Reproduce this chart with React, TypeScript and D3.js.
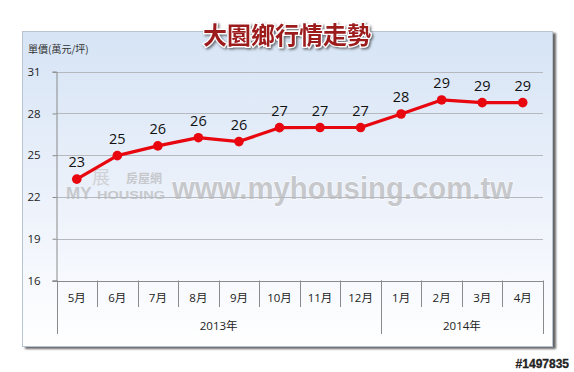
import { useEffect, useRef } from "react";
import * as d3 from "d3";

// monthly unit price (萬元/坪), 2013-05 .. 2014-04
const MONTHS = ["5月", "6月", "7月", "8月", "9月", "10月", "11月", "12月", "1月", "2月", "3月", "4月"];
const PRICES = [23.28, 24.97, 25.67, 26.26, 25.98, 26.98, 26.99, 26.99, 27.96, 28.97, 28.78, 28.78];
const YEAR_LABELS = ["2013年", "2014年"];
const YEAR_SPANS = [8, 4];
const Y_TICKS = [16, 19, 22, 25, 28, 31];

const W = 574;
const H = 372;
const FONT = "'Open Sans', 'Noto Sans CJK TC', sans-serif";
const CJK = "'Noto Sans CJK TC', 'Open Sans', sans-serif";
const WM = "'Liberation Sans', Arial, sans-serif";

export default function App() {
  const svgRef = useRef<SVGSVGElement>(null);

  useEffect(() => {
    const svg = d3.select(svgRef.current);
    svg.selectAll("*").remove();

    const plot = { left: 56.5, right: 543, top: 71.7, bottom: 280.5 };

    const defs = svg.append("defs");
    const grad = defs
      .append("linearGradient")
      .attr("id", "bg")
      .attr("x1", 0)
      .attr("y1", 0)
      .attr("x2", 0)
      .attr("y2", 1);
    grad.append("stop").attr("offset", "0%").attr("stop-color", "#d6e4f5");
    grad.append("stop").attr("offset", "55%").attr("stop-color", "#edf2fb");
    grad.append("stop").attr("offset", "100%").attr("stop-color", "#ffffff");

    const shadow = defs.append("filter").attr("id", "shadow").attr("x", "-5%").attr("y", "-5%").attr("width", "115%").attr("height", "115%");
    shadow
      .append("feDropShadow")
      .attr("dx", 3)
      .attr("dy", 2)
      .attr("stdDeviation", 1)
      .attr("flood-color", "#555")
      .attr("flood-opacity", 0.9);

    const tshadow = defs.append("filter").attr("id", "tshadow").attr("x", "-10%").attr("y", "-30%").attr("width", "120%").attr("height", "160%");
    tshadow
      .append("feDropShadow")
      .attr("dx", 1.5)
      .attr("dy", 1.5)
      .attr("stdDeviation", 1.2)
      .attr("flood-color", "#333")
      .attr("flood-opacity", 0.7);

    // panel
    svg
      .append("rect")
      .attr("x", 22.5)
      .attr("y", 31.5)
      .attr("width", 530)
      .attr("height", 315)
      .attr("fill", "url(#bg)")
      .attr("stroke", "#b8c4d2")
      .attr("stroke-width", 1)
      .attr("filter", "url(#shadow)");

    const x = d3.scaleBand<string>().domain(MONTHS).range([plot.left, plot.right]);
    const y = d3.scaleLinear().domain([16, 31]).range([plot.bottom, plot.top]);

    // watermark
    const wm = svg.append("g");
    wm.append("text")
      .attr("x", 172)
      .attr("y", 199)
      .attr("font-family", WM)
      .attr("font-weight", "bold")
      .attr("font-size", 32)
      .attr("fill", "#c6c8cc")
      .attr("stroke", "#ffffff")
      .attr("stroke-width", 1)
      .attr("paint-order", "stroke")
      .attr("textLength", 341)
      .attr("lengthAdjust", "spacingAndGlyphs")
      .text("www.myhousing.com.tw");
    wm.append("text")
      .attr("x", 66)
      .attr("y", 199)
      .attr("font-family", WM)
      .attr("font-weight", "bold")
      .attr("font-size", 17)
      .attr("fill", "#c6c8cc")
      .text("MY");
    wm.append("text")
      .attr("x", 97)
      .attr("y", 199)
      .attr("font-family", WM)
      .attr("font-weight", "bold")
      .attr("font-size", 11)
      .attr("fill", "#c6c8cc")
      .attr("textLength", 68)
      .attr("lengthAdjust", "spacingAndGlyphs")
      .text("HOUSING");
    wm.append("text")
      .attr("x", 126)
      .attr("y", 183)
      .attr("font-family", CJK)
      .attr("font-weight", "bold")
      .attr("font-size", 12)
      .attr("fill", "#c6c8cc")
      .text("房屋網");
    wm.append("text")
      .attr("x", 92)
      .attr("y", 184)
      .attr("font-family", CJK)
      .attr("font-size", 18)
      .attr("fill", "#d0d2d6")
      .text("展");

    // grid
    svg
      .append("g")
      .selectAll("line")
      .data(Y_TICKS.slice(1))
      .join("line")
      .attr("x1", plot.left)
      .attr("x2", plot.right)
      .attr("y1", (d) => Math.round(y(d)) + 0.5)
      .attr("y2", (d) => Math.round(y(d)) + 0.5)
      .attr("stroke", "#b5b8bd")
      .attr("stroke-width", 1);

    // y axis
    const yAxis = svg
      .append("g")
      .attr("transform", `translate(${plot.left},0)`)
      .call(d3.axisLeft(y).tickValues(Y_TICKS).tickSize(4).tickPadding(12).tickFormat(d3.format("d")));
    yAxis.select(".domain").attr("stroke", "#8a8a8a");
    yAxis.selectAll(".tick line").attr("stroke", "#8a8a8a");
    yAxis
      .selectAll(".tick text")
      .attr("text-anchor", "start")
      .attr("x", -29)
      .attr("font-family", FONT)
      .attr("font-size", 11.5)
      .attr("fill", "#222");

    // x axis baseline
    svg
      .append("line")
      .attr("x1", plot.left - 4)
      .attr("x2", plot.right)
      .attr("y1", Math.round(plot.bottom) + 0.5)
      .attr("y2", Math.round(plot.bottom) + 0.5)
      .attr("stroke", "#8a8a8a");

    // month separators
    svg
      .append("g")
      .selectAll("line")
      .data(MONTHS.slice(1))
      .join("line")
      .attr("x1", (d) => Math.round(x(d)!) + 0.5)
      .attr("x2", (d) => Math.round(x(d)!) + 0.5)
      .attr("y1", plot.bottom)
      .attr("y2", 307)
      .attr("stroke", "#8a8a8a");

    // month labels
    svg
      .append("g")
      .selectAll("text")
      .data(MONTHS)
      .join("text")
      .attr("x", (d) => x(d)! + x.bandwidth() / 2)
      .attr("y", 302)
      .attr("text-anchor", "middle")
      .attr("font-family", FONT)
      .attr("font-size", 11.5)
      .attr("fill", "#222")
      .text((d) => d);

    // year groups
    const yearBounds = d3.cumsum([0, ...YEAR_SPANS]);
    svg
      .append("g")
      .selectAll("line")
      .data(yearBounds)
      .join("line")
      .attr("x1", (d) => Math.round(plot.left + d * x.bandwidth()) + 0.5)
      .attr("x2", (d) => Math.round(plot.left + d * x.bandwidth()) + 0.5)
      .attr("y1", plot.bottom)
      .attr("y2", 334)
      .attr("stroke", "#8a8a8a");
    svg
      .append("g")
      .selectAll("text")
      .data(YEAR_LABELS)
      .join("text")
      .attr("x", (_, i) => plot.left + ((yearBounds[i] + yearBounds[i + 1]) / 2) * x.bandwidth())
      .attr("y", 330)
      .attr("text-anchor", "middle")
      .attr("font-family", FONT)
      .attr("font-size", 11.5)
      .attr("fill", "#222")
      .text((d) => d);

    // line + markers
    const cx = (_: number, i: number) => x(MONTHS[i])! + x.bandwidth() / 2;
    const line = d3
      .line<number>()
      .x(cx)
      .y((d) => y(d));
    svg
      .append("path")
      .datum(PRICES)
      .attr("fill", "none")
      .attr("stroke", "#e8060f")
      .attr("stroke-width", 3.2)
      .attr("stroke-linejoin", "round")
      .attr("d", line);
    svg
      .append("g")
      .selectAll("circle")
      .data(PRICES)
      .join("circle")
      .attr("cx", cx)
      .attr("cy", (d) => y(d))
      .attr("r", 4.8)
      .attr("fill", "#e8060f");

    // value labels
    svg
      .append("g")
      .selectAll("text")
      .data(PRICES)
      .join("text")
      .attr("x", cx)
      .attr("y", (d) => y(d) - 12)
      .attr("text-anchor", "middle")
      .attr("font-family", FONT)
      .attr("font-size", 14.5)
      .attr("fill", "#111")
      .text((d) => d3.format(".0f")(d));

    // unit label
    svg
      .append("text")
      .attr("x", 28)
      .attr("y", 53)
      .attr("font-family", CJK)
      .attr("font-size", 10)
      .attr("fill", "#333")
      .text("單價(萬元/坪)");

    // title
    svg
      .append("text")
      .attr("x", 287)
      .attr("y", 44)
      .attr("text-anchor", "middle")
      .attr("font-family", CJK)
      .attr("font-weight", "bold")
      .attr("font-size", 24)
      .attr("fill", "#9c1a1f")
      .attr("stroke", "#ffffff")
      .attr("stroke-width", 2.5)
      .attr("paint-order", "stroke")
      .attr("filter", "url(#tshadow)")
      .text("大園鄉行情走勢");

    // image id
    svg
      .append("text")
      .attr("x", 569)
      .attr("y", 368)
      .attr("text-anchor", "end")
      .attr("font-family", WM)
      .attr("font-weight", "bold")
      .attr("font-size", 12)
      .attr("fill", "#222")
      .attr("stroke", "#222")
      .attr("stroke-width", 0.3)
      .text("#1497835");
  }, []);

  return (
    <div style={{ position: "absolute", left: 0, top: 0 }}>
      <svg ref={svgRef} width={W} height={H} style={{ display: "block", background: "#fff" }} />
    </div>
  );
}
